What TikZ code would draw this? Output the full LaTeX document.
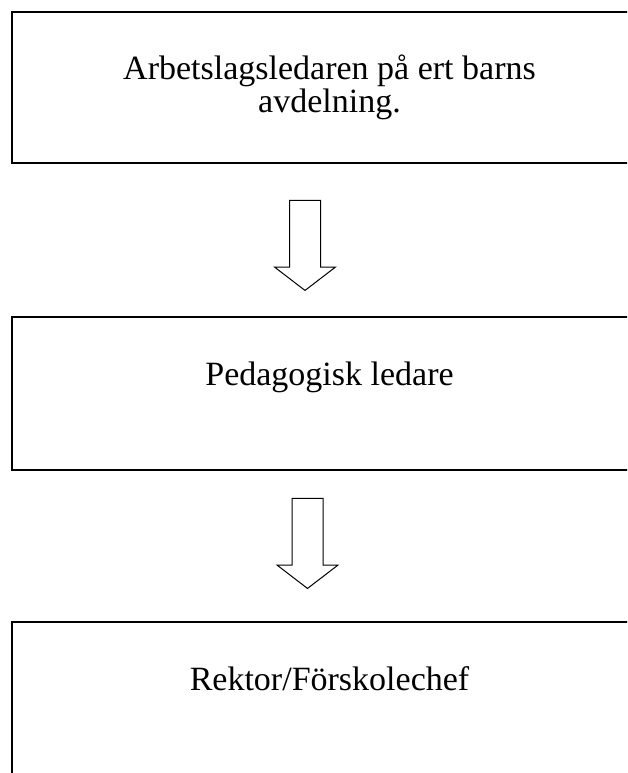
\documentclass[tikz,border=0pt]{standalone}
\usepackage{fontspec}
\setmainfont{Liberation Serif}
\usetikzlibrary{shapes.arrows}

\tikzset{
  stagebox/.style={draw, black, line width=1.5pt, minimum width=477pt, inner sep=0pt},
  stagetext/.style={anchor=base, align=center, inner sep=0pt, font=\fontsize{25.5}{24.75}\selectfont},
  downarrow/.style={draw, black, line width=0.75pt, shape=single arrow, rotate=-90,
    minimum height=67.5pt, inner xsep=0pt, inner ysep=11.25pt, single arrow head extend=11.25pt,
    single arrow tip angle=105}
}

\begin{document}
\begin{tikzpicture}[x=0.75pt,y=0.75pt,yscale=-1,xscale=1]
		% Set diagram size to the page, boxes run past its right and bottom edges
		\useasboundingbox (0,0) rectangle (627,773);
		\clip (0,0) rectangle (627,773);

		% Draw the three boxes
		\node[stagebox, minimum height=113.25pt] (lead) at (330,87.5) {};
		\node[stagebox, minimum height=114.75pt] (ped) at (330,393.5) {};
		\node[stagebox, minimum height=150pt] (rektor) at (330,722) {};

		% The texts in the boxes (base is the last line)
		\node[stagetext] (leadtext) at (329.5,113) {Arbetslagsledaren på ert barns\\avdelning.};
		\node[stagetext] (pedtext) at (329.5,385) {Pedagogisk ledare};
		\node[stagetext] (rektortext) at (329.5,690) {Rektor/Förskolechef};

		% Draw the two hollow arrows between the boxes
		\node[downarrow] (arrowone) at (305,239.5) {};
		\node[downarrow] (arrowtwo) at (307.5,537.5) {};
	\end{tikzpicture}
\end{document}
